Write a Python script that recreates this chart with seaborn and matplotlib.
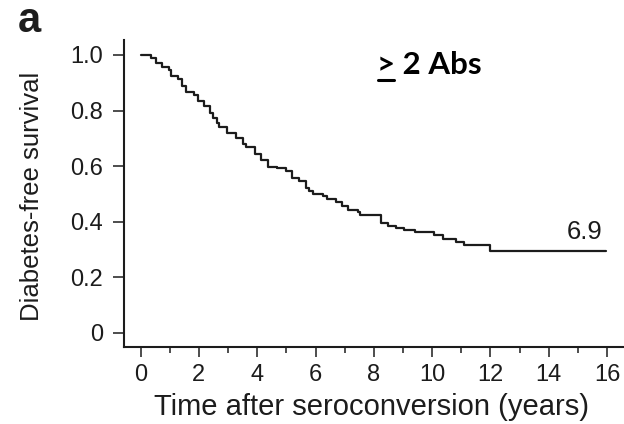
import seaborn as sns
import pandas as pd
import numpy as np
import matplotlib.pyplot as plt
from matplotlib.lines import Line2D
from matplotlib.ticker import MultipleLocator

# Kaplan-Meier curve (time in years, survival after each step)
time_years = [0.0, 0.37, 0.52, 0.72, 0.97, 1.04, 1.27, 1.42, 1.54, 1.83, 1.98, 2.17,
              2.37, 2.47, 2.62, 2.70, 2.97, 3.27, 3.52, 3.62, 3.92, 4.12, 4.37, 4.67,
              4.97, 5.18, 5.43, 5.68, 5.79, 5.90, 6.25, 6.40, 6.70, 6.92, 7.12, 7.47,
              7.52, 8.25, 8.47, 8.77, 9.02, 9.42, 10.08, 10.38, 10.83, 11.08, 11.98, 15.95]
survival = [1.000, 0.990, 0.970, 0.958, 0.946, 0.925, 0.915, 0.890, 0.868, 0.856, 0.835, 0.815,
            0.790, 0.772, 0.755, 0.742, 0.720, 0.700, 0.680, 0.668, 0.645, 0.622, 0.598, 0.592,
            0.582, 0.556, 0.546, 0.520, 0.510, 0.500, 0.494, 0.482, 0.472, 0.457, 0.443, 0.436,
            0.425, 0.397, 0.386, 0.377, 0.371, 0.362, 0.352, 0.336, 0.328, 0.316, 0.295, 0.295]

y_ticks = [0, 0.2, 0.4, 0.6, 0.8, 1.0]
y_ticklabels = ["0", "0.2", "0.4", "0.6", "0.8", "1.0"]
x_ticks = [0, 2, 4, 6, 8, 10, 12, 14, 16]
median_label = "6.9"

df = pd.DataFrame({"time": time_years, "surv": survival})

sns.set_style("ticks")
plt.rcParams["font.family"] = ["Liberation Sans", "DejaVu Sans"]
ink = "#1c1c1c"

fig = plt.figure(figsize=(6.24, 4.24), dpi=100)
ax = fig.add_axes([0.1987, 0.1816, 0.8013, 0.7241])

sns.lineplot(data=df, x="time", y="surv", drawstyle="steps-post", color=ink,
             linewidth=1.6, ax=ax, estimator=None, sort=False)

ax.set_xlim(-0.57, 16.58)
ax.set_ylim(-0.051, 1.054)
sns.despine(ax=ax)
for s in ["left", "bottom"]:
    ax.spines[s].set_linewidth(1.5)
    ax.spines[s].set_color(ink)

ax.set_yticks(y_ticks)
ax.set_yticklabels(y_ticklabels)
ax.set_xticks(x_ticks)
ax.xaxis.set_minor_locator(MultipleLocator(1))
ax.tick_params(axis="y", length=8, width=1.1, pad=7, labelsize=17, colors=ink)
ax.tick_params(axis="x", which="major", length=7, width=1.1, pad=5, labelsize=17, colors=ink)
ax.tick_params(axis="x", which="minor", length=4.5, width=1.1, colors=ink)

ax.set_xlabel("Time after seroconversion (years)", fontsize=21, color=ink, va="center")
ax.xaxis.set_label_coords(0.496, -0.195)
ax.set_ylabel("Diabetes-free survival", fontsize=18.5, color=ink, va="center")
ax.yaxis.set_label_coords(-0.184, 0.492)

ax.text(15.24, 0.364, median_label, ha="center", va="center", fontsize=18.5, color=ink)

# group annotation with underlined ">"
gt = ax.text(8.11, 0.932, ">", ha="left", va="baseline", fontsize=22.5,
             fontweight="bold", family=["Lato", "DejaVu Sans"], color="black")
ax.annotate(" 2 Abs", xy=(1, 0), xycoords=gt, va="bottom", ha="left", fontsize=22.5,
            fontweight="bold", family=["Lato", "DejaVu Sans"], color="black")
fig.canvas.draw()
bb = gt.get_window_extent()
uy = bb.y0 - 1
fig.add_artist(Line2D([bb.x0 + 1, bb.x1 - 1], [uy, uy], transform=None,
                      color="black", linewidth=2.2))

fig.text(18 / 624, 1 - 32 / 424, "a", ha="left", va="baseline", fontsize=30,
         fontweight="bold", color=ink)

fig.savefig("out.png", dpi=100)
